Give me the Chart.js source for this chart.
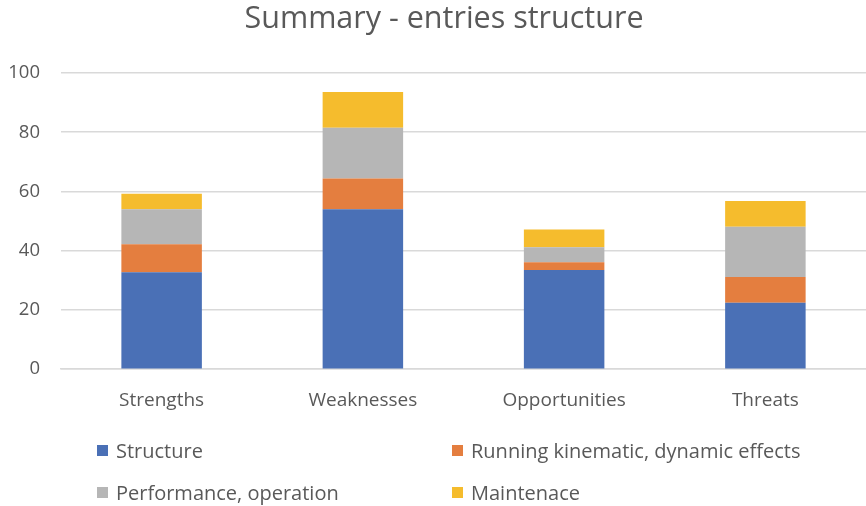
<!DOCTYPE html>
<html lang="en">
<head>
    <meta charset="UTF-8">
    <title>Summary - entries structure</title>
    <script src="https://cdn.jsdelivr.net/npm/chart.js"></script>
    <style>
        html, body {
            margin: 0;
            padding: 0;
            background: #ffffff;
            overflow: hidden;
        }

        #wrap {
            position: relative;
            width: 866px;
            height: 506px;
        }

        /* the original title sits a bit right of the page centre */
        #title {
            position: absolute;
            left: 11px;
            top: 0;
            width: 866px;
            text-align: center;
            font-family: "Open Sans", sans-serif;
            font-size: 30.5px;
            line-height: 32px;
            color: #595959;
        }

        #legend {
            position: absolute;
            left: 97px;
            top: 438px;
            display: grid;
            grid-template-columns: 355px 355px;
            grid-auto-rows: 42px;
            font-family: "Open Sans", sans-serif;
            font-size: 20px;
            color: #595959;
        }

        .item {
            display: flex;
            align-items: center;
            height: 24px;
            white-space: nowrap;
        }

        .box {
            width: 11px;
            height: 11px;
            margin-right: 8px;
        }
    </style>
</head>
<body>

<div id="wrap">
    <canvas id="chart" width="866" height="506"></canvas>
    <div id="title">Summary - entries structure</div>
    <div id="legend"></div>
</div>

<script>
    var categories = ['Strengths', 'Weaknesses', 'Opportunities', 'Threats'];
    var seriesNames = ['Structure', 'Running kinematic, dynamic effects', 'Performance, operation', 'Maintenace'];
    var structure = [32.7, 54, 33.5, 22.4];
    var running = [9.5, 10.4, 2.6, 8.7];
    var performance = [11.8, 17.1, 5.1, 17];
    var maintenance = [5.2, 12.1, 6, 8.7];
    var colors = ['#4A70B6', '#E47E3F', '#B6B6B6', '#F5BC2D'];

    var grey = '#595959';
    var values = [structure, running, performance, maintenance];

    var datasets = values.map(function (v, i) {
        return {
            label: seriesNames[i],
            data: v,
            backgroundColor: colors[i],
            barPercentage: 0.4,
            categoryPercentage: 1
        };
    });

    new Chart(document.getElementById('chart'), {
        type: 'bar',
        data: { labels: categories, datasets: datasets },
        options: {
            responsive: false,
            animation: false,
            layout: { padding: { left: 0, right: 0, top: 73, bottom: 82 } },
            plugins: {
                legend: { display: false },
                tooltip: { enabled: false },
                title: { display: false }
            },
            scales: {
                x: {
                    stacked: true,
                    grid: { display: false },
                    border: { display: true, color: '#d9d9d9', width: 1.5 },
                    ticks: {
                        color: grey,
                        font: { family: 'Open Sans', size: 19 },
                        padding: 12
                    }
                },
                y: {
                    stacked: true,
                    min: 0,
                    max: 100,
                    ticks: {
                        stepSize: 20,
                        color: grey,
                        font: { family: 'Open Sans', size: 18.5 },
                        padding: 21
                    },
                    grid: { color: '#d9d9d9', lineWidth: 1.5, drawTicks: false },
                    border: { display: false },
                    afterFit: function (scale) { scale.width = 61; }
                }
            }
        }
    });

    // legend in two columns, like the original
    var legend = document.getElementById('legend');
    seriesNames.forEach(function (name, i) {
        var item = document.createElement('div');
        item.className = 'item';
        item.innerHTML = '<span class="box" style="background:' + colors[i] + '"></span>' + name;
        legend.appendChild(item);
    });
</script>

</body>
</html>
